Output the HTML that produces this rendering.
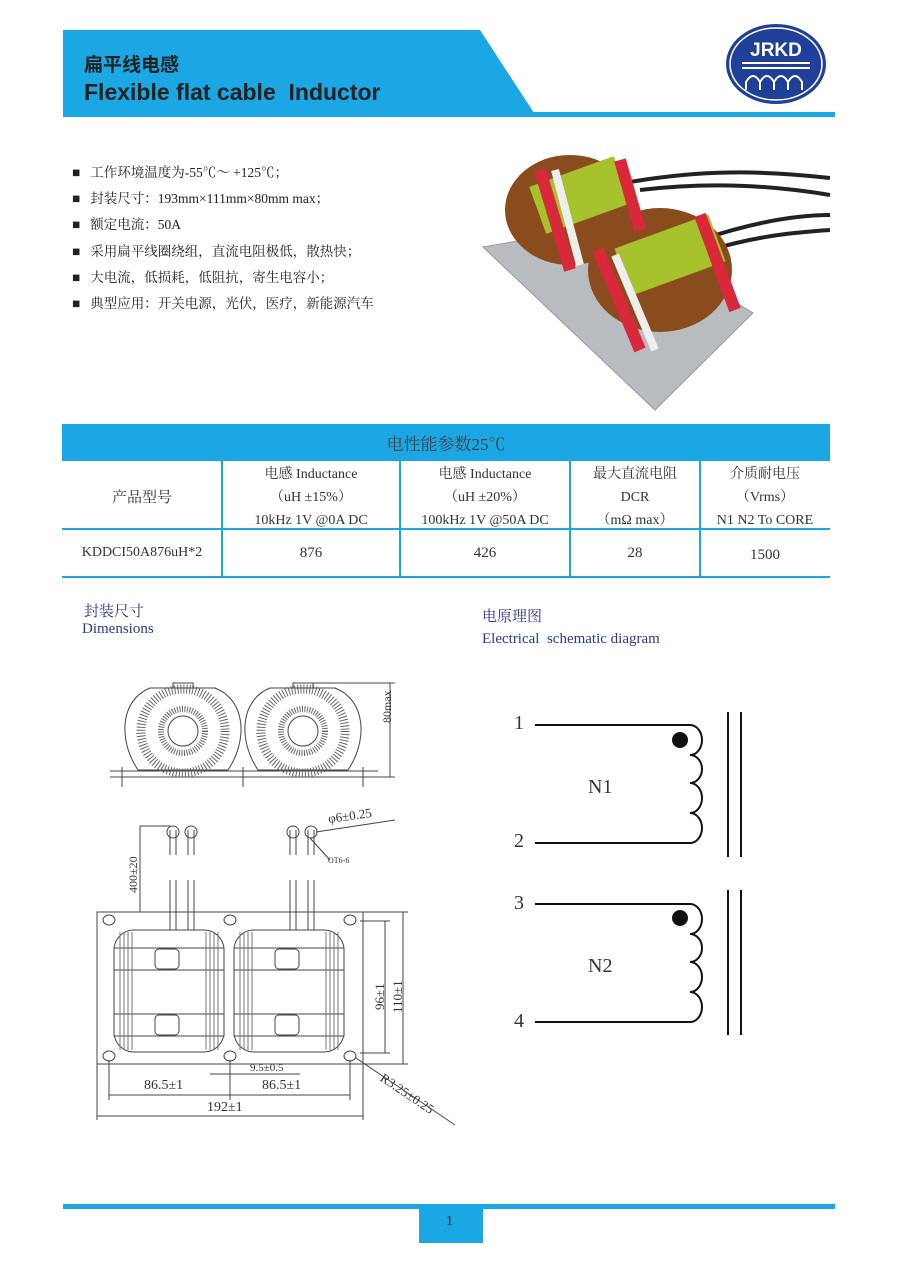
<!DOCTYPE html>
<html><head><meta charset="utf-8"><style>
body{margin:0;background:#fff;}
#p{position:relative;width:900px;height:1272px;overflow:hidden;background:#fff;font-family:"Liberation Serif","Noto Serif CJK SC",serif;color:#333;}
.a{position:absolute;white-space:nowrap;}
.cjk{font-family:"Liberation Sans","Noto Sans CJK SC",sans-serif;}
</style></head><body><div id="p">
<svg class="a" style="left:0;top:0" width="900" height="1272">
<polygon points="63,30 480,30 534,113 63,113" fill="#1aa7e3"/>
<rect x="63" y="112" width="772" height="5" fill="#1aa7e3"/>
<ellipse cx="776" cy="64" rx="50" ry="40" fill="#1f3f98"/>
<ellipse cx="776" cy="64" rx="46" ry="36" fill="none" stroke="#fff" stroke-width="1.5"/>
<text x="776" y="56" text-anchor="middle" font-family="Liberation Sans" font-weight="bold" font-size="19" fill="#fff">JRKD</text>
<rect x="742" y="62" width="68" height="2" fill="#fff"/><rect x="742" y="67" width="68" height="2" fill="#fff"/>
<path d="M746 90 v-8 q7-12 14 0 v8 M760 82 q7-12 14 0 v8 M774 82 q7-12 14 0 v8 M788 82 q7-12 14 0 v8" fill="none" stroke="#fff" stroke-width="2"/>
<!-- photo -->
<polygon points="483,247 610,225 753,313 655,410" fill="#b8bcc0" stroke="#999"/>
<path d="M630 182 C700 170 760 170 830 178 M640 190 C710 182 770 185 830 195 M700 240 C760 220 800 215 830 215 M710 250 C760 235 800 232 830 230" stroke="#222" stroke-width="4" fill="none"/>
<ellipse cx="570" cy="210" rx="65" ry="55" fill="#8a4b1d"/>
<rect x="535" y="170" width="90" height="50" fill="#a6c22c" transform="rotate(-20 580 195)"/>
<ellipse cx="660" cy="270" rx="72" ry="62" fill="#8a4b1d"/>
<rect x="620" y="230" width="100" height="50" fill="#a6c22c" transform="rotate(-20 670 255)"/>
<path d="M540 170 L570 270 M620 160 L640 230 M598 250 L640 350 M700 215 L735 310" stroke="#d8283a" stroke-width="12"/>
<path d="M555 170 L580 265 M615 255 L655 350" stroke="#eee" stroke-width="8"/>
<!-- table -->
<rect x="62" y="424" width="768" height="37" fill="#1aa7e3"/>
<g stroke="#1aa7e3" stroke-width="2"><line x1="62" y1="529" x2="830" y2="529"/><line x1="62" y1="577" x2="830" y2="577"/>
<line x1="222" y1="461" x2="222" y2="577"/><line x1="400" y1="461" x2="400" y2="577"/><line x1="570" y1="461" x2="570" y2="577"/><line x1="700" y1="461" x2="700" y2="577"/></g>
<!-- top view drawing -->
<g stroke="#444" fill="none" stroke-width="1">
<line x1="110" y1="777" x2="378" y2="777"/><line x1="110" y1="771" x2="378" y2="771"/>
<line x1="122" y1="767" x2="122" y2="787"/><line x1="243" y1="767" x2="243" y2="787"/><line x1="363" y1="767" x2="363" y2="787"/>
<line x1="305" y1="683" x2="395" y2="683"/><line x1="378" y1="777" x2="395" y2="777"/><line x1="390" y1="683" x2="390" y2="777"/>
</g>
<g id="tor" stroke="#444" fill="none">
<path d="M138 770 C118 740 120 700 150 688 L215 688 C246 700 248 740 228 770 Z"/>
<circle cx="183" cy="731" r="42" stroke-dasharray="1 2" stroke-width="9" stroke="#666"/>
<circle cx="183" cy="731" r="22" stroke-width="6" stroke="#666" stroke-dasharray="1 1.5"/>
<circle cx="183" cy="731" r="15" fill="#fff"/>
<rect x="173" y="683" width="20" height="5"/>
</g>
<use href="#tor" x="120"/>
<!-- bottom view -->
<g stroke="#444" fill="none" stroke-width="1">
<rect x="97" y="912" width="266" height="152"/>
<ellipse cx="109" cy="920" rx="6" ry="5"/><ellipse cx="230" cy="920" rx="6" ry="5"/><ellipse cx="350" cy="920" rx="6" ry="5"/>
<ellipse cx="109" cy="1056" rx="6" ry="5"/><ellipse cx="230" cy="1056" rx="6" ry="5"/><ellipse cx="350" cy="1056" rx="6" ry="5"/>
<g id="coil"><rect x="114" y="930" width="110" height="122" rx="20" stroke-width="1"/>
<rect x="114" y="948" width="110" height="22" fill="#fff"/><rect x="114" y="1014" width="110" height="22" fill="#fff"/>
<rect x="155" y="949" width="24" height="20" rx="4"/><rect x="155" y="1015" width="24" height="20" rx="4"/>
<path d="M120 932 V1050 M124 932 V1050 M128 932 V1050 M132 932 V1050 M206 932 V1050 M210 932 V1050 M214 932 V1050 M218 932 V1050" stroke="#777"/>
<path d="M170 830 V855 M176 830 V855 M170 880 V930 M176 880 V930 M188 830 V855 M194 830 V855 M188 880 V930 M194 880 V930"/>
<circle cx="173" cy="832" r="6"/><circle cx="191" cy="832" r="6"/></g>
<use href="#coil" x="120"/>
<line x1="140" y1="826" x2="170" y2="826"/><line x1="140" y1="912" x2="140" y2="826"/>
<line x1="360" y1="921" x2="390" y2="921"/><line x1="360" y1="1053" x2="390" y2="1053"/><line x1="385" y1="921" x2="385" y2="1053"/>
<line x1="363" y1="912" x2="408" y2="912"/><line x1="363" y1="1064" x2="408" y2="1064"/><line x1="403" y1="912" x2="403" y2="1064"/>
<line x1="109" y1="1060" x2="109" y2="1100"/><line x1="230" y1="1060" x2="230" y2="1100"/><line x1="350" y1="1060" x2="350" y2="1100"/>
<line x1="109" y1="1095" x2="350" y2="1095"/><line x1="97" y1="1064" x2="97" y2="1120"/><line x1="363" y1="1064" x2="363" y2="1120"/>
<line x1="97" y1="1116" x2="363" y2="1116"/><line x1="210" y1="1074" x2="300" y2="1074"/>
<line x1="356" y1="1058" x2="455" y2="1125"/><line x1="316" y1="832" x2="395" y2="820"/><line x1="310" y1="838" x2="330" y2="860"/>
</g>
<!-- schematic -->
<g stroke="#111" stroke-width="2" fill="none">
<path d="M535 725 H690 a12 15 0 0 1 0 30 a12 14 0 0 1 0 28 a12 15 0 0 1 0 30 a12 15 0 0 1 0 30 H535"/>
<path d="M535 904 H690 a12 15 0 0 1 0 30 a12 14 0 0 1 0 28 a12 15 0 0 1 0 30 a12 15 0 0 1 0 30 H535"/>
<path d="M728 712 V857 M741 712 V857 M728 890 V1035 M741 890 V1035"/>
</g>
<circle cx="680" cy="740" r="8" fill="#111"/><circle cx="680" cy="918" r="8" fill="#111"/>
<rect x="63" y="1204" width="772" height="5" fill="#1aa7e3"/>
<rect x="419" y="1207" width="64" height="36" fill="#1aa7e3"/>
</svg>
<div class="a cjk" style="left:84px;top:50px;font-size:19px;font-weight:bold;color:#222">扁平线电感</div>
<div class="a" style="left:84px;top:79px;font-size:23px;font-weight:bold;color:#222;font-family:'Liberation Sans',sans-serif">Flexible flat cable&nbsp; Inductor</div>
<div class="a" style="left:72px;top:160px;font-size:13.5px;line-height:26.2px;color:#222;font-family:'Liberation Serif','Noto Serif CJK SC',serif">
■&nbsp;&nbsp; 工作环境温度为-55℃～ +125℃；<br>■&nbsp;&nbsp; 封装尺寸：193mm×111mm×80mm max；<br>■&nbsp;&nbsp; 额定电流：50A<br>■&nbsp;&nbsp; 采用扁平线圈绕组，直流电阻极低，散热快；<br>■&nbsp;&nbsp; 大电流，低损耗，低阻抗，寄生电容小；<br>■&nbsp;&nbsp; 典型应用：开关电源，光伏，医疗，新能源汽车</div>
<div class="a" style="left:62px;top:430px;width:768px;text-align:center;font-size:17px;color:#444">电性能参数25℃</div>
<div class="a" style="left:62px;top:486px;width:160px;text-align:center;font-size:15px">产品型号</div>
<div class="a" style="left:222px;top:463px;width:178px;text-align:center;font-size:14px;line-height:23px">电感 Inductance<br>（uH ±15%）<br>10kHz 1V @0A DC</div>
<div class="a" style="left:400px;top:463px;width:170px;text-align:center;font-size:14px;line-height:23px">电感 Inductance<br>（uH ±20%）<br>100kHz 1V @50A DC</div>
<div class="a" style="left:570px;top:463px;width:130px;text-align:center;font-size:14px;line-height:23px">最大直流电阻<br>DCR<br>（mΩ max）</div>
<div class="a" style="left:700px;top:463px;width:130px;text-align:center;font-size:14px;line-height:23px">介质耐电压<br>（Vrms）<br>N1 N2 To CORE</div>
<div class="a" style="left:62px;top:545px;width:160px;text-align:center;font-size:14px">KDDCI50A876uH*2</div>
<div class="a" style="left:222px;top:545px;width:178px;text-align:center;font-size:15px">876</div>
<div class="a" style="left:400px;top:545px;width:170px;text-align:center;font-size:15px">426</div>
<div class="a" style="left:570px;top:545px;width:130px;text-align:center;font-size:15px">28</div>
<div class="a" style="left:700px;top:547px;width:130px;text-align:center;font-size:15px">1500</div>
<div class="a" style="left:84px;top:600px;font-size:15px;color:#2a3a8a">封装尺寸</div>
<div class="a" style="left:82px;top:621px;font-size:15px;color:#2a3a8a">Dimensions</div>
<div class="a" style="left:482px;top:605px;font-size:15px;color:#2a3a8a">电原理图</div>
<div class="a" style="left:482px;top:631px;font-size:15px;color:#2a3a8a">Electrical&nbsp; schematic diagram</div>
<div class="a" style="left:380px;top:723px;font-size:12px;transform:rotate(-90deg);transform-origin:left top">80max</div>
<div class="a" style="left:126px;top:893px;font-size:12px;transform:rotate(-90deg);transform-origin:left top">400±20</div>
<div class="a" style="left:328px;top:808px;font-size:13px;transform:rotate(-8deg)">φ6±0.25</div>
<div class="a" style="left:328px;top:856px;font-size:8px">OT6-6</div>
<div class="a" style="left:372px;top:1010px;font-size:13px;transform:rotate(-90deg);transform-origin:left top">96±1</div>
<div class="a" style="left:390px;top:1013px;font-size:13px;transform:rotate(-90deg);transform-origin:left top">110±1</div>
<div class="a" style="left:250px;top:1062px;font-size:11px">9.5±0.5</div>
<div class="a" style="left:144px;top:1078px;font-size:14px">86.5±1</div>
<div class="a" style="left:262px;top:1078px;font-size:14px">86.5±1</div>
<div class="a" style="left:207px;top:1100px;font-size:14px">192±1</div>
<div class="a" style="left:386px;top:1070px;font-size:13px;transform:rotate(34deg);transform-origin:left top">R3.25±0.25</div>
<div class="a" style="left:514px;top:712px;font-size:20px">1</div>
<div class="a" style="left:514px;top:830px;font-size:20px">2</div>
<div class="a" style="left:514px;top:892px;font-size:20px">3</div>
<div class="a" style="left:514px;top:1010px;font-size:20px">4</div>
<div class="a" style="left:588px;top:776px;font-size:20px">N1</div>
<div class="a" style="left:588px;top:955px;font-size:20px">N2</div>
<div class="a" style="left:446px;top:1214px;font-size:14px;color:#222">1</div>
</div></body></html>
